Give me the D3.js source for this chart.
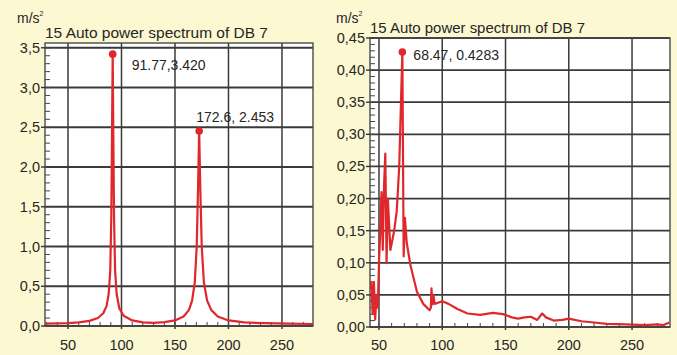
<!DOCTYPE html>
<html>
<head>
<meta charset="utf-8">
<script src="https://cdn.jsdelivr.net/npm/d3@7"></script>
<style>
  body { margin: 0; background: #fcf8d2; }
  svg { display: block; }
  text { font-family: "Liberation Sans", Arial, sans-serif; fill: #262626; }
</style>
</head>
<body>
<svg id="chart" width="677" height="355"></svg>
<script>
// ---- Data: auto power spectrum of DB 7 (frequency, amplitude in m/s²) ----
const titleText = "15 Auto power spectrum of DB 7";
const unitText = "m/s";

const xTicks = [50, 100, 150, 200, 250];

// Left panel
const leftFreq = [28.5, 40, 50, 60, 70, 78, 83, 86, 88, 89.5, 90.5, 91.2, 91.77, 92.3, 93, 94, 95.5, 98, 102, 110, 120, 130, 140, 150, 158, 163, 166, 168.5, 170.3, 171.5, 172.6, 173.7, 175, 177, 180, 184, 190, 200, 215, 235, 255, 279];
const leftAmp  = [0.03, 0.032, 0.035, 0.045, 0.065, 0.1, 0.16, 0.25, 0.4, 0.7, 1.4, 2.5, 3.42, 2.5, 1.4, 0.7, 0.4, 0.22, 0.13, 0.07, 0.045, 0.04, 0.048, 0.07, 0.12, 0.2, 0.32, 0.55, 1.0, 1.7, 2.453, 1.7, 1.0, 0.55, 0.32, 0.2, 0.12, 0.07, 0.045, 0.035, 0.03, 0.025];
const leftYTicks = [0, 0.5, 1.0, 1.5, 2.0, 2.5, 3.0, 3.5];
const leftPeakFreq = [91.77, 172.6];
const leftPeakAmp = [3.420, 2.453];
const leftPeakLabels = ["91.77,3.420", "172.6, 2.453"];

// Right panel
const rightFreq = [43, 44, 45, 46, 47, 48, 49, 50, 51, 52, 53, 54, 55, 56, 57, 59, 62, 64, 66, 68.47, 69.5, 70.5, 72, 75, 80, 85, 90, 91, 91.5, 92.2, 93, 94, 100, 105, 112, 120, 130, 140, 148, 155, 160, 165, 170, 175, 179, 182, 188, 195, 200, 210, 220, 230, 245, 260, 270, 275, 279.5];
const rightAmp  = [0.06, 0.07, 0.02, 0.07, 0.012, 0.05, 0.03, 0.1, 0.15, 0.21, 0.12, 0.22, 0.27, 0.1, 0.2, 0.12, 0.15, 0.18, 0.25, 0.4283, 0.11, 0.17, 0.13, 0.095, 0.055, 0.036, 0.026, 0.03, 0.06, 0.035, 0.05, 0.036, 0.04, 0.036, 0.028, 0.021, 0.019, 0.022, 0.02, 0.015, 0.013, 0.015, 0.016, 0.011, 0.021, 0.015, 0.01, 0.011, 0.013, 0.009, 0.007, 0.005, 0.004, 0.003, 0.004, 0.003, 0.007];
const rightYTicks = [0, 0.05, 0.10, 0.15, 0.20, 0.25, 0.30, 0.35, 0.40, 0.45];
const rightPeakFreq = [68.47];
const rightPeakAmp = [0.4283];
const rightPeakLabels = ["68.47, 0.4283"];

const svg = d3.select("#chart");

function drawPanel(cfg) {
  const g = svg.append("g");
  const x = d3.scaleLinear().domain(cfg.xDomain).range([cfg.left, cfg.right]);
  const y = d3.scaleLinear().domain(cfg.yDomain).range([cfg.bottom, cfg.top]);
  const comma = v => d3.format(cfg.yFmt)(v).replace(".", ",");

  // plot background
  g.append("rect")
    .attr("x", cfg.left).attr("y", cfg.top)
    .attr("width", cfg.right - cfg.left).attr("height", cfg.bottom - cfg.top)
    .attr("fill", "#ffffff");

  // grid
  g.selectAll(".hg").data(cfg.yTicks).join("line")
    .attr("x1", cfg.left).attr("x2", cfg.right)
    .attr("y1", d => y(d)).attr("y2", d => y(d))
    .attr("stroke", "#3a3a3a").attr("stroke-width", 1.8);
  g.selectAll(".vg").data(xTicks).join("line")
    .attr("x1", d => x(d)).attr("x2", d => x(d))
    .attr("y1", cfg.top).attr("y2", cfg.bottom + 3)
    .attr("stroke", "#3a3a3a").attr("stroke-width", 1.5);

  // frame
  g.append("rect")
    .attr("x", cfg.left).attr("y", cfg.top)
    .attr("width", cfg.right - cfg.left).attr("height", cfg.bottom - cfg.top)
    .attr("fill", "none").attr("stroke", "#4a4a4a").attr("stroke-width", 1.4);

  // minor y ticks along the left edge
  const yMinor = d3.range(0, cfg.yDomain[1] + 1e-9, cfg.yMinorStep);
  g.selectAll(".ym").data(yMinor).join("line")
    .attr("x1", cfg.left).attr("x2", cfg.left + 5)
    .attr("y1", d => y(d)).attr("y2", d => y(d))
    .attr("stroke", "#444").attr("stroke-width", 1);
  // major y ticks outside
  g.selectAll(".yM").data(cfg.yTicks).join("line")
    .attr("x1", cfg.left - 4).attr("x2", cfg.left)
    .attr("y1", d => y(d)).attr("y2", d => y(d))
    .attr("stroke", "#333").attr("stroke-width", 1.4);

  // minor x ticks along the bottom edge
  const xMinor = d3.range(Math.ceil(cfg.xDomain[0] / 10) * 10, cfg.xDomain[1], 10);
  g.selectAll(".xm").data(xMinor).join("line")
    .attr("x1", d => x(d)).attr("x2", d => x(d))
    .attr("y1", cfg.bottom).attr("y2", cfg.bottom - 4)
    .attr("stroke", "#444").attr("stroke-width", 1);

  // tick labels
  g.selectAll(".yl").data(cfg.yTicks).join("text")
    .attr("x", cfg.left - 5).attr("y", d => y(d) + 5)
    .attr("text-anchor", "end").attr("font-size", 14.5)
    .text(comma);
  g.selectAll(".xl").data(xTicks).join("text")
    .attr("x", d => x(d)).attr("y", 350)
    .attr("text-anchor", "middle").attr("font-size", 14.5)
    .text(d => d);

  // unit and title
  const u = g.append("text").attr("x", cfg.unitX).attr("y", 23).attr("font-size", 14);
  u.append("tspan").text(unitText);
  u.append("tspan").attr("dy", -7).attr("font-size", 7).text("2");
  g.append("text")
    .attr("x", cfg.left).attr("y", cfg.top - 5)
    .attr("font-size", 14)
    .attr("textLength", cfg.titleLen).attr("lengthAdjust", "spacingAndGlyphs")
    .text(titleText);

  // spectrum line
  const clipId = "clip" + cfg.id;
  svg.append("clipPath").attr("id", clipId).append("rect")
    .attr("x", cfg.left).attr("y", cfg.top - 10)
    .attr("width", cfg.right - cfg.left).attr("height", cfg.bottom - cfg.top + 10);
  const pts = cfg.freq.map((f, i) => [f, cfg.amp[i]]);
  g.append("path")
    .datum(pts)
    .attr("clip-path", `url(#${clipId})`)
    .attr("fill", "none")
    .attr("stroke", "#e0282c")
    .attr("stroke-width", 2.2)
    .attr("stroke-linejoin", "round")
    .attr("d", d3.line().x(d => x(d[0])).y(d => y(d[1])));

  // peak markers and labels
  cfg.peakFreq.forEach((f, i) => {
    g.append("circle")
      .attr("cx", x(f)).attr("cy", y(cfg.peakAmp[i]))
      .attr("r", 3.8).attr("fill", "#e0282c");
    g.append("text")
      .attr("x", x(f) + cfg.labelDx[i]).attr("y", y(cfg.peakAmp[i]) + cfg.labelDy[i])
      .attr("font-size", 14)
      .text(cfg.peakLabels[i]);
  });
}

drawPanel({
  id: "L", left: 45, right: 313, top: 43, bottom: 326,
  xDomain: [28.5, 279], yDomain: [0, 3.56],
  yTicks: leftYTicks, yFmt: ".1f", yMinorStep: 0.1,
  freq: leftFreq, amp: leftAmp,
  peakFreq: leftPeakFreq, peakAmp: leftPeakAmp, peakLabels: leftPeakLabels,
  labelDx: [19, -3], labelDy: [16, -9],
  unitX: 17, titleLen: 223
});

drawPanel({
  id: "R", left: 370, right: 670, top: 38, bottom: 327,
  xDomain: [42.9, 280], yDomain: [0, 0.45],
  yTicks: rightYTicks, yFmt: ".2f", yMinorStep: 0.01,
  freq: rightFreq, amp: rightAmp,
  peakFreq: rightPeakFreq, peakAmp: rightPeakAmp, peakLabels: rightPeakLabels,
  labelDx: [11], labelDy: [8],
  unitX: 336, titleLen: 215
});
</script>
</body>
</html>
